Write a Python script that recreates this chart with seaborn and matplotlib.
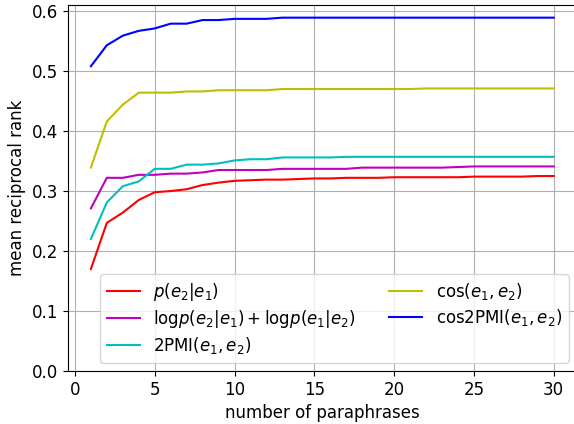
import numpy as np
import pandas as pd
import matplotlib
matplotlib.use("Agg")
import matplotlib.pyplot as plt
import seaborn as sns

# number of paraphrases
n_para = list(range(1, 31))

# mean reciprocal rank per scoring method
p_e2_e1 = [0.170, 0.247, 0.264, 0.285, 0.298, 0.300, 0.303, 0.310, 0.314, 0.317,
           0.318, 0.319, 0.319, 0.320, 0.321, 0.321, 0.322, 0.322, 0.322, 0.323,
           0.323, 0.323, 0.323, 0.323, 0.324, 0.324, 0.324, 0.324, 0.325, 0.325]
logp_sum = [0.271, 0.322, 0.322, 0.327, 0.327, 0.329, 0.329, 0.331, 0.335, 0.335,
            0.335, 0.335, 0.337, 0.337, 0.337, 0.337, 0.337, 0.339, 0.339, 0.339,
            0.339, 0.339, 0.339, 0.340, 0.341, 0.341, 0.341, 0.341, 0.341, 0.341]
pmi2 = [0.220, 0.281, 0.308, 0.316, 0.337, 0.337, 0.344, 0.344, 0.346, 0.351,
        0.353, 0.353, 0.356, 0.356, 0.356, 0.356, 0.357, 0.357, 0.357, 0.357,
        0.357, 0.357, 0.357, 0.357, 0.357, 0.357, 0.357, 0.357, 0.357, 0.357]
cos_e = [0.339, 0.416, 0.444, 0.464, 0.464, 0.464, 0.466, 0.466, 0.468, 0.468,
         0.468, 0.468, 0.470, 0.470, 0.470, 0.470, 0.470, 0.470, 0.470, 0.470,
         0.470, 0.471, 0.471, 0.471, 0.471, 0.471, 0.471, 0.471, 0.471, 0.471]
cos2pmi = [0.508, 0.543, 0.559, 0.567, 0.571, 0.579, 0.579, 0.585, 0.585, 0.587,
           0.587, 0.587, 0.589, 0.589, 0.589, 0.589, 0.589, 0.589, 0.589, 0.589,
           0.589, 0.589, 0.589, 0.589, 0.589, 0.589, 0.589, 0.589, 0.589, 0.589]

series = [
    (r"$p(e_2|e_1)$", p_e2_e1, "r"),
    (r"$\mathrm{log}p(e_2|e_1) + \mathrm{log}p(e_1|e_2)$", logp_sum, "m"),
    (r"$2\mathrm{PMI}(e_1, e_2)$", pmi2, "c"),
    (r"$\cos(e_1, e_2)$", cos_e, "y"),
    (r"$\mathrm{cos2PMI}(e_1, e_2)$", cos2pmi, "b"),
]

fig = plt.figure(figsize=(5.74, 4.24), dpi=100)
ax = fig.add_axes([0.118, 0.125, 0.887, 0.863])

for label, vals, color in series:
    df = pd.DataFrame({"n": n_para, "mrr": vals})
    sns.lineplot(data=df, x="n", y="mrr", color=color, label=label, ax=ax, linewidth=1.5)

ax.set_ylim(bottom=0)
ax.grid(True)
ax.set_xlabel("number of paraphrases", fontsize=12)
ax.set_ylabel("mean reciprocal rank", fontsize=12)
ax.tick_params(labelsize=12)
ax.legend(loc="lower right", ncol=2, fontsize=12, labelspacing=0.3)

fig.savefig("out.png", dpi=100)
